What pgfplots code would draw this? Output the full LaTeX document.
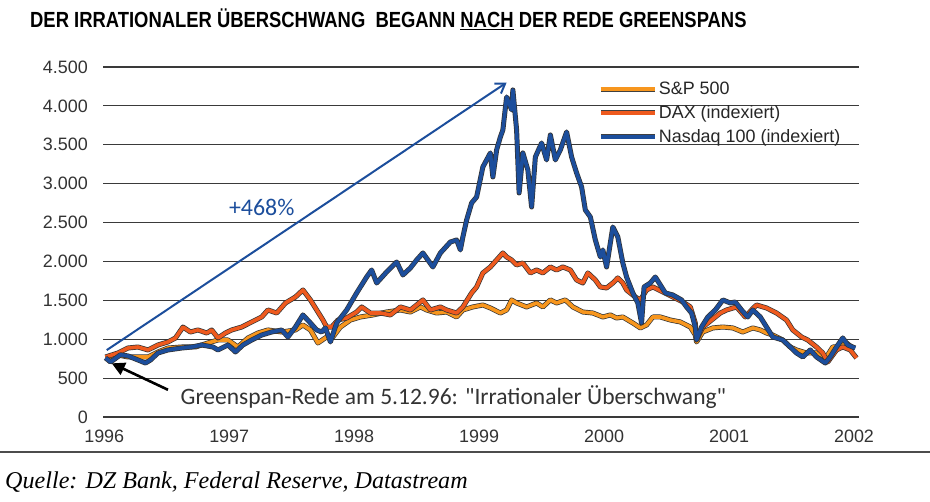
\documentclass[border=0pt]{standalone}
\usepackage{fontspec}
\setmainfont{Liberation Sans}
\newfontfamily\calib{Carlito}
\newfontfamily\titlefont[FakeStretch=0.84]{Liberation Sans}
\newfontfamily\capfont{Liberation Serif}
\usepackage{pgfplots}
\usepackage{pgfplotstable}
\pgfplotsset{compat=1.18}
\usetikzlibrary{arrows.meta}

\definecolor{spx}{HTML}{F7961E}
\definecolor{dax}{HTML}{EE5A1E}
\definecolor{ndx}{HTML}{1C4E9C}
\definecolor{gridc}{HTML}{3A3A3A}

% S&P 500
\pgfplotstableread{
year value
1996.01 759
1996.11 797
1996.19 772
1996.27 772
1996.35 772
1996.43 836
1996.51 887
1996.62 900
1996.73 900
1996.83 952
1996.91 990
1996.99 990
1997.07 900
1997.15 1016
1997.23 1080
1997.31 1119
1997.42 1093
1997.53 1119
1997.59 1183
1997.65 1119
1997.71 952
1997.78 1029
1997.83 1029
1997.89 1157
1997.97 1247
1998.05 1286
1998.15 1312
1998.26 1350
1998.37 1376
1998.45 1350
1998.53 1415
1998.58 1376
1998.66 1337
1998.74 1350
1998.82 1286
1998.87 1376
1998.95 1415
1999.03 1440
1999.09 1402
1999.17 1337
1999.22 1376
1999.26 1505
1999.30 1466
1999.38 1415
1999.46 1466
1999.51 1415
1999.57 1505
1999.62 1466
1999.69 1505
1999.75 1415
1999.83 1350
1999.91 1337
1999.99 1286
2000.05 1312
2000.10 1273
2000.15 1286
2000.23 1209
2000.29 1145
2000.34 1183
2000.39 1286
2000.45 1286
2000.53 1247
2000.61 1222
2000.69 1157
2000.73 1054
2000.74 965
2000.79 1093
2000.87 1145
2000.95 1157
2001.03 1145
2001.11 1093
2001.19 1145
2001.25 1119
2001.30 1080
2001.35 1054
2001.43 990
2001.49 900
2001.54 862
2001.62 823
2001.70 823
2001.78 772
2001.83 900
2001.89 900
2001.94 952
2001.99 887
}\spxdata

% DAX (indexiert)
\pgfplotstableread{
year value
1996.01 772
1996.11 823
1996.19 887
1996.27 900
1996.35 862
1996.43 926
1996.51 965
1996.57 1016
1996.63 1157
1996.69 1093
1996.75 1119
1996.82 1080
1996.86 1119
1996.91 1016
1996.97 1080
1997.02 1119
1997.10 1157
1997.18 1222
1997.26 1286
1997.31 1376
1997.38 1337
1997.45 1466
1997.53 1543
1997.59 1633
1997.65 1505
1997.70 1376
1997.75 1247
1997.78 1157
1997.82 1157
1997.87 1247
1997.94 1273
1998.02 1350
1998.06 1415
1998.13 1337
1998.21 1337
1998.29 1312
1998.37 1415
1998.45 1376
1998.50 1440
1998.55 1505
1998.61 1376
1998.69 1415
1998.74 1376
1998.82 1337
1998.87 1415
1998.94 1595
1998.98 1672
1999.03 1852
1999.09 1929
1999.14 2019
1999.19 2109
1999.22 2058
1999.26 2019
1999.30 1955
1999.35 1980
1999.41 1852
1999.46 1890
1999.51 1852
1999.57 1929
1999.62 1890
1999.67 1929
1999.73 1890
1999.78 1762
1999.83 1723
1999.87 1852
1999.93 1762
1999.97 1672
2000.02 1659
2000.07 1723
2000.11 1788
2000.15 1723
2000.18 1633
2000.25 1543
2000.29 1505
2000.34 1633
2000.39 1672
2000.47 1608
2000.55 1543
2000.63 1479
2000.69 1415
2000.73 1209
2000.74 990
2000.79 1157
2000.86 1247
2000.93 1337
2000.98 1376
2001.06 1415
2001.13 1286
2001.18 1376
2001.22 1440
2001.30 1402
2001.38 1337
2001.46 1247
2001.51 1119
2001.58 1029
2001.63 990
2001.70 900
2001.75 823
2001.79 707
2001.86 862
2001.91 900
2001.97 862
2002.02 759
}\daxdata

% Nasdaq 100 (indexiert)
\pgfplotstableread{
year value
1996.01 760
1996.05 707
1996.13 800
1996.19 785
1996.27 733
1996.33 694
1996.37 733
1996.43 823
1996.51 862
1996.62 887
1996.70 900
1996.78 926
1996.87 900
1996.91 862
1996.99 926
1997.05 836
1997.11 926
1997.18 990
1997.26 1054
1997.34 1093
1997.42 1119
1997.47 1029
1997.53 1157
1997.59 1312
1997.65 1209
1997.70 1119
1997.74 1093
1997.77 1145
1997.81 965
1997.86 1209
1997.94 1376
1998.02 1595
1998.10 1800
1998.14 1890
1998.18 1723
1998.26 1865
1998.34 1993
1998.39 1826
1998.45 1916
1998.50 2019
1998.55 2109
1998.63 1929
1998.69 2109
1998.77 2250
1998.82 2276
1998.85 2148
1998.87 2315
1998.90 2533
1998.94 2752
1998.98 2829
1999.03 3215
1999.09 3395
1999.11 3086
1999.14 3434
1999.17 3600
1999.19 3690
1999.22 4115
1999.26 3948
1999.27 4205
1999.30 3690
1999.32 2880
1999.35 3395
1999.39 3176
1999.42 2700
1999.45 3343
1999.50 3523
1999.54 3305
1999.57 3626
1999.61 3305
1999.65 3434
1999.70 3665
1999.74 3343
1999.78 3138
1999.82 2958
1999.85 2662
1999.89 2572
1999.93 2276
1999.97 2058
1999.99 2148
2000.02 1929
2000.07 2443
2000.11 2315
2000.15 1980
2000.18 1800
2000.23 1595
2000.27 1466
2000.30 1209
2000.32 1672
2000.37 1723
2000.41 1800
2000.45 1698
2000.49 1595
2000.55 1569
2000.62 1505
2000.66 1415
2000.70 1337
2000.73 1157
2000.74 990
2000.78 1157
2000.83 1286
2000.89 1376
2000.95 1505
2001.01 1466
2001.05 1479
2001.10 1376
2001.15 1286
2001.19 1376
2001.25 1286
2001.30 1157
2001.35 1029
2001.43 990
2001.49 900
2001.54 823
2001.59 772
2001.65 862
2001.70 772
2001.77 694
2001.81 772
2001.86 900
2001.91 1016
2001.95 926
2002.01 887
}\ndxdata

\begin{document}
\begin{tikzpicture}
\useasboundingbox (0bp,0bp) rectangle (930bp,502bp);

% title
\node[anchor=north west,inner sep=0,font=\titlefont\bfseries\fontsize{22}{22}\selectfont]
  at (30bp,493bp) {DER IRRATIONALER ÜBERSCHWANG\ \ BEGANN \underline{NACH} DER REDE GREENSPANS};

\begin{axis}[
  at={(103bp,85bp)},anchor=south west,
  scale only axis,width=756bp,height=350bp,
  xmin=1995.99,xmax=2002.04,ymin=0,ymax=4500,
  xtick={1996,1997,1998,1999,2000,2001,2002},
  xticklabels={1996,1997,1998,1999,2000,2001,2002},
  ytick={0,500,...,4500},
  /pgf/number format/assume math mode=true,
  yticklabel style={/pgf/number format/1000 sep={.},inner sep=0,anchor=east,xshift=-15bp},
  xticklabel style={inner sep=0,anchor=north,yshift=-13bp},
  ticklabel style={font=\fontsize{18}{18}\selectfont,text=black!80},
  axis line style={draw=none},tick style={draw=none},
  ymajorgrids,grid style={draw=gridc,line width=1.1bp},
  clip=false,
  legend style={at={(axis description cs:0.655,0.962)},anchor=north west,
    draw=none,fill=none,font=\fontsize{18}{18}\selectfont,
    row sep=6.5bp,inner sep=0bp,nodes={inner sep=1.5bp,text=black!85}},
  legend cell align=left,
  legend image code/.code={
    \draw[black!75,line width=5bp] (0bp,0bp) -- (54bp,0bp);
    \draw[#1] (0bp,0bp) -- (54bp,0bp);},
]
\addplot[black!80,line width=5bp,line join=round,forget plot] table[x=year,y=value] {\spxdata};
\addplot[spx,line width=3.6bp,line join=round] table[x=year,y=value] {\spxdata};
\addlegendentry{S\&P 500}
\addplot[black!80,line width=5bp,line join=round,forget plot] table[x=year,y=value] {\daxdata};
\addplot[dax,line width=3.6bp,line join=round] table[x=year,y=value] {\daxdata};
\addlegendentry{DAX (indexiert)}
\addplot[black!80,line width=5bp,line join=round,forget plot] table[x=year,y=value] {\ndxdata};
\addplot[ndx,line width=3.6bp,line join=round] table[x=year,y=value] {\ndxdata};
\addlegendentry{Nasdaq 100 (indexiert)}

\draw[ndx,line width=2bp,-{Straight Barb[length=9bp,width=12bp,line width=2bp]}]
  (axis cs:1996.02,860) -- (axis cs:1999.22,4300);
\node[text=ndx,font=\calib\fontsize{24}{24}\selectfont] at (axis cs:1997.26,2700) {+468\%};
\draw[black,line width=2.6bp,-{Triangle[length=13bp,width=13bp]}]
  (axis cs:1996.51,350) -- (axis cs:1996.06,690);
\node[anchor=west,inner sep=0,text=black!80,font=\calib\fontsize{23.6}{23.6}\selectfont]
  at (axis cs:1996.61,257) {Greenspan-Rede am 5.12.96: "Irrationaler Überschwang"};
\end{axis}

\draw[black!70,line width=1.5bp] (0bp,50bp) -- (930bp,50bp);
\node[anchor=west,inner sep=0,font=\capfont\itshape\fontsize{24.2}{24.2}\selectfont]
  at (5bp,20bp) {Quelle: DZ Bank, Federal Reserve, Datastream};
\end{tikzpicture}
\end{document}
